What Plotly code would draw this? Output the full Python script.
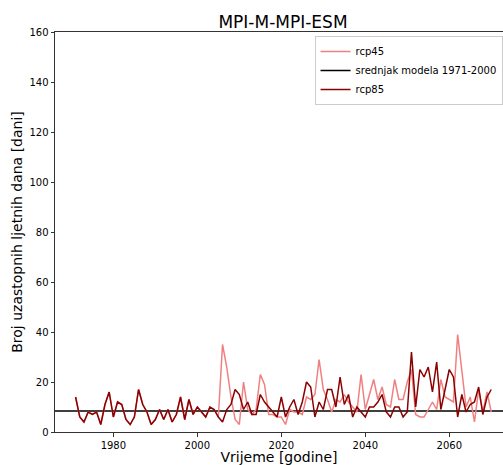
import plotly.graph_objects as go

# godine i vrijednosti (broj uzastopnih ljetnih dana)
hist_years = list(range(1971, 2006))
hist_vals = [14, 6, 4, 8, 7, 8, 3, 11, 16, 6,
             12, 11, 5, 3, 6, 17, 11, 8, 3, 5,
             9, 5, 9, 4, 7, 14, 5, 13, 7, 10,
             8, 6, 10, 9, 6]

scen_years = list(range(2006, 2071))
rcp45_vals = [35, 26, 14, 5, 3, 20, 9, 7, 9, 23,
              19, 7, 7, 6, 6, 3, 9, 8, 8, 7,
              14, 13, 15, 29, 17, 13, 8, 13, 12, 15,
              12, 10, 8, 23, 9, 15, 21, 13, 18, 11,
              10, 21, 13, 13, 20, 25, 7, 6, 6, 9,
              12, 9, 21, 14, 13, 12, 39, 24, 10, 14,
              4, 17, 8, 16, 8]
rcp85_vals = [4, 9, 11, 17, 15, 9, 12, 7, 7, 15,
              12, 10, 8, 6, 14, 6, 10, 13, 7, 12,
              20, 18, 6, 12, 9, 17, 17, 10, 22, 11,
              15, 6, 10, 8, 6, 10, 10, 12, 15, 8,
              6, 10, 10, 6, 8, 32, 10, 25, 22, 26,
              16, 28, 9, 17, 25, 22, 6, 15, 8, 11,
              12, 18, 7, 14, 17]
mean_1971_2000 = 8.4

years = hist_years + scen_years

fig = go.Figure()
fig.add_trace(go.Scatter(
    x=years, y=hist_vals + rcp45_vals, mode='lines', name='rcp45',
    line=dict(color='#F08080', width=1.5)))
fig.add_trace(go.Scatter(
    x=[None], y=[None], mode='lines', name='srednjak modela 1971-2000',
    line=dict(color='black', width=1.5)))
fig.add_trace(go.Scatter(
    x=years, y=hist_vals + rcp85_vals, mode='lines', name='rcp85',
    line=dict(color='#8B0000', width=1.5)))
fig.add_hline(y=mean_1971_2000, line=dict(color='black', width=1.5), layer='below')

axis_font = dict(family='DejaVu Sans', size=10, color='black')
fig.update_layout(
    width=503, height=465,
    margin=dict(l=55, r=0, t=32, b=33),
    paper_bgcolor='white', plot_bgcolor='white',
    font=dict(family='DejaVu Sans', color='black'),
    title=dict(text='MPI-M-MPI-ESM', x=283/503, xanchor='center',
               y=1-22/465, yanchor='middle',
               font=dict(size=17, family='DejaVu Sans', color='black')),
    showlegend=True,
    legend=dict(x=0.999, y=0.99, xanchor='right', yanchor='top',
                bgcolor='white', bordercolor='#cccccc', borderwidth=1,
                font=dict(size=10, family='DejaVu Sans', color='black'),
                itemwidth=30, tracegroupgap=0),
    xaxis=dict(range=[1966.1, 2072.8], tickvals=[1980, 2000, 2020, 2040, 2060],
               showgrid=False, zeroline=False, showline=True, mirror=True,
               linecolor='#333333', linewidth=1, ticks='outside', ticklen=3.5,
               tickcolor='#333333', tickfont=axis_font,
               title=dict(text='Vrijeme [godine]', standoff=1,
                          font=dict(size=14, family='DejaVu Sans', color='black'))),
    yaxis=dict(range=[0, 160], tickvals=[0, 20, 40, 60, 80, 100, 120, 140, 160],
               showgrid=False, zeroline=False, showline=True,
               linecolor='#333333', linewidth=1, ticks='outside', ticklen=3.5,
               tickcolor='#333333', tickfont=axis_font,
               title=dict(text='Broj uzastopnih ljetnih dana [dani]', standoff=3,
                          font=dict(size=14, family='DejaVu Sans', color='black'))),
)

fig.write_html('out.html', config={'displayModeBar': False},
               post_script="document.body.style.margin='0';")
